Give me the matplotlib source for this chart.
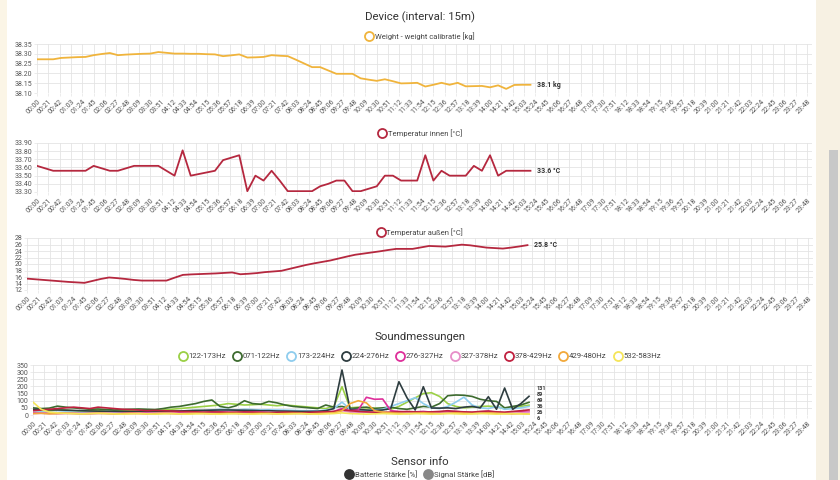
import numpy as np
import matplotlib
matplotlib.use("Agg")
import matplotlib.pyplot as plt
from matplotlib.lines import Line2D
from matplotlib.transforms import offset_copy

plt.rcParams['font.family'] = ['Roboto', 'DejaVu Sans']

# ---------------- data ----------------
step_min = 15
weight = [38.272, 38.272, 38.272, 38.279, 38.281, 38.283, 38.284, 38.293, 38.299, 38.304,
          38.293, 38.296, 38.298, 38.300, 38.301, 38.309, 38.305, 38.301, 38.301, 38.300,
          38.300, 38.298, 38.297, 38.288, 38.292, 38.297, 38.281, 38.282, 38.284, 38.293,
          38.290, 38.288, 38.270, 38.251, 38.232, 38.232, 38.215, 38.198, 38.198, 38.198,
          38.175, 38.168, 38.162, 38.170, 38.160, 38.149, 38.150, 38.152, 38.133, 38.142,
          38.152, 38.142, 38.152, 38.134, 38.135, 38.136, 38.129, 38.139, 38.121, 38.141,
          38.142, 38.142]
temp_in = [33.62, 33.59, 33.56, 33.56, 33.56, 33.56, 33.56, 33.62, 33.59, 33.56,
           33.56, 33.59, 33.62, 33.62, 33.62, 33.62, 33.56, 33.50, 33.81, 33.50,
           33.52, 33.54, 33.56, 33.69, 33.72, 33.75, 33.31, 33.50, 33.44, 33.56,
           33.44, 33.31, 33.31, 33.31, 33.31, 33.37, 33.40, 33.44, 33.44, 33.31,
           33.31, 33.34, 33.37, 33.50, 33.50, 33.44, 33.44, 33.44, 33.75, 33.44,
           33.56, 33.50, 33.50, 33.50, 33.62, 33.56, 33.75, 33.50, 33.56, 33.56,
           33.56, 33.56]
temp_out = [15.5, 15.3, 15.1, 14.9, 14.7, 14.5, 14.35, 14.2, 14.8, 15.4,
            15.85, 15.65, 15.4, 15.1, 14.9, 14.9, 14.9, 14.9, 15.8, 16.65,
            16.8, 16.9, 17.0, 17.1, 17.25, 17.4, 16.85, 17.0, 17.2, 17.5,
            17.7, 17.9, 18.5, 19.1, 19.7, 20.2, 20.65, 21.1, 21.7, 22.3,
            22.85, 23.2, 23.55, 23.9, 24.3, 24.65, 24.65, 24.65, 25.1, 25.55,
            25.45, 25.35, 25.65, 25.95, 25.75, 25.4, 25.05, 24.9, 24.75, 25.05,
            25.4, 25.8]

sound_names = ["122-173Hz", "071-122Hz", "173-224Hz", "224-276Hz", "276-327Hz",
               "327-378Hz", "378-429Hz", "429-480Hz", "532-583Hz"]
s_122 = [35, 30, 28, 40, 35, 30, 25, 30, 35, 30, 28, 30, 32, 30, 28, 30, 35, 40, 45, 50,
         55, 60, 65, 70, 80, 75, 70, 72, 75, 70, 65, 70, 65, 60, 55, 50, 45, 60, 198, 50,
         55, 50, 48, 45, 40, 60, 90, 120, 150, 156, 130, 80, 60, 50, 55, 60, 62, 58, 45, 50,
         60, 69]
s_071 = [50, 45, 48, 62, 55, 50, 45, 40, 42, 38, 35, 38, 40, 42, 40, 38, 45, 55, 60, 70,
         80, 95, 105, 60, 50, 65, 100, 80, 75, 95, 85, 70, 60, 55, 50, 45, 70, 55, 60, 45,
         50, 55, 45, 50, 55, 45, 40, 50, 60, 55, 80, 135, 140, 138, 130, 110, 100, 95, 50, 60,
         70, 89]
s_173 = [20, 22, 20, 18, 22, 20, 18, 20, 22, 25, 22, 20, 22, 25, 22, 20, 22, 25, 28, 30,
         32, 30, 35, 40, 38, 35, 40, 38, 35, 36, 35, 34, 32, 30, 30, 28, 35, 45, 90, 40,
         35, 30, 35, 40, 60, 80, 100, 121, 80, 50, 45, 60, 90, 125, 70, 50, 45, 60, 40, 45,
         50, 60]
s_224 = [40, 38, 36, 35, 34, 32, 30, 28, 27, 26, 25, 25, 24, 24, 25, 26, 27, 28, 28, 30,
         32, 33, 34, 35, 35, 34, 33, 32, 30, 30, 28, 27, 26, 25, 25, 26, 30, 45, 315, 40,
         38, 35, 32, 35, 45, 233, 120, 35, 198, 49, 48, 50, 45, 55, 60, 50, 128, 40, 189, 40,
         80, 131]
s_276 = [15, 14, 12, 15, 14, 12, 10, 12, 14, 12, 10, 12, 14, 15, 14, 12, 14, 15, 16, 18,
         20, 18, 20, 22, 20, 18, 20, 22, 20, 18, 16, 15, 14, 15, 16, 18, 20, 25, 45, 30,
         35, 124, 110, 112, 30, 25, 20, 22, 25, 20, 18, 22, 25, 20, 18, 22, 25, 20, 15, 20,
         25, 26]
s_327 = [10, 12, 10, 8, 10, 12, 10, 8, 10, 12, 10, 8, 10, 12, 10, 12, 14, 12, 10, 12,
         14, 15, 14, 12, 14, 15, 14, 12, 14, 12, 10, 12, 10, 12, 10, 12, 14, 20, 30, 20,
         18, 20, 15, 18, 15, 12, 14, 15, 18, 15, 12, 14, 15, 12, 14, 15, 18, 15, 12, 14,
         15, 20]
s_378 = [30, 35, 40, 45, 50, 55, 50, 45, 55, 50, 45, 40, 38, 35, 30, 32, 30, 28, 25, 24,
         22, 20, 22, 20, 18, 20, 22, 20, 18, 16, 18, 20, 18, 16, 18, 20, 22, 25, 35, 30,
         25, 22, 20, 18, 20, 22, 25, 22, 20, 22, 25, 30, 25, 22, 20, 25, 28, 22, 20, 25,
         30, 36]
s_429 = [10, 12, 8, 10, 12, 10, 8, 10, 12, 10, 8, 10, 12, 10, 8, 10, 12, 10, 8, 10,
         12, 10, 8, 10, 12, 10, 8, 10, 12, 10, 8, 10, 12, 10, 8, 10, 12, 15, 30, 80,
         100, 85, 30, 20, 15, 12, 10, 12, 15, 12, 10, 12, 15, 12, 10, 12, 15, 12, 10, 8,
         10, 6]
s_532 = [90, 40, 20, 15, 12, 10, 8, 10, 12, 10, 8, 6, 8, 10, 8, 6, 8, 10, 8, 6,
         8, 10, 8, 6, 8, 10, 8, 6, 8, 10, 8, 6, 8, 10, 8, 6, 8, 10, 15, 10,
         8, 6, 8, 10, 8, 6, 8, 10, 8, 6, 8, 10, 8, 6, 8, 10, 8, 6, 8, 10,
         8, 6]
sound_series = [s_122, s_071, s_173, s_224, s_276, s_327, s_378, s_429, s_532]
sound_colors = ["#9bd046", "#3d6b2f", "#8fcdee", "#2e3d40", "#de2f9a",
                "#e78fc9", "#c0213f", "#f2a93b", "#f5e55a"]
sound_end_values = [131, 89, 69, 36, 26, 6]

sensor_names = ["Batterie Stärke [%]", "Signal Stärke [dB]"]
sensor_colors = ["#333333", "#888888"]

tick_minutes = list(range(0, 1429, 21))
tick_labels = [f"{m // 60:02d}:{m % 60:02d}" for m in tick_minutes]

W, H = 840, 480
fig = plt.figure(figsize=(W / 100, H / 100), dpi=100)
fig.patch.set_facecolor("white")

# page decorations
bg = fig.add_axes([0, 0, 1, 1], zorder=-10)
bg.set_xlim(0, W); bg.set_ylim(H, 0); bg.axis("off")
bg.add_patch(plt.Rectangle((0, 0), 7, H, color="#fbf5e6", lw=0))
bg.add_patch(plt.Rectangle((816, 0), 24, H, color="#f7f1e3", lw=0))
bg.add_patch(plt.Rectangle((829, 150), 9, H - 150, color="#c8c8c8", lw=0))

LBL = "#555555"
GRID = "#e4e4e4"
FS = 5.0


def make_axes(l, t, r, b):
    ax = fig.add_axes([l / W, 1 - b / H, (r - l) / W, (b - t) / H])
    ax.set_xlim(0, 1437)
    ax.set_xticks(tick_minutes)
    ax.set_xticklabels(tick_labels, rotation=45, ha="right", rotation_mode="anchor")
    ax.tick_params(axis="both", length=2, width=0.5, color=GRID, pad=1.5,
                   labelsize=FS, labelcolor=LBL)
    ax.grid(True, color=GRID, lw=0.6)
    for s in ax.spines.values():
        s.set_visible(False)
    ax.set_facecolor("white")
    return ax


def top_legend(labels, colors, y_px, fs=5.5, filled=False):
    handles = [Line2D([], [], marker="o", ls="none", markersize=6.5,
                      markerfacecolor=(c if filled else "none"),
                      markeredgecolor=c, markeredgewidth=1.3) for c in colors]
    fig.legend(handles, labels, loc="center", bbox_to_anchor=(0.5, 1 - y_px / H),
               ncol=len(labels), frameon=False, fontsize=fs, handletextpad=0.25,
               columnspacing=0.9, borderaxespad=0, labelcolor="#444444", handlelength=1.0)


def end_label(ax, xv, yv, text):
    ax.text(xv + 12, yv, text, fontsize=5.0, fontweight="bold", color="#333333",
            va="center", clip_on=False)


x = np.arange(len(weight)) * step_min

fig.text(0.5, 1 - 17 / H, "Device (interval: 15m)", ha="center", va="center",
         fontsize=8.2, color="#333333")

# chart 1: weight
ax1 = make_axes(37, 44, 812, 93)
ax1.plot(x, weight, color="#f0b43c", lw=1.3)
ax1.set_ylim(38.10, 38.35)
yt1 = np.arange(38.10, 38.351, 0.05)
ax1.set_yticks(yt1)
ax1.set_yticklabels([f"{v:.2f}" for v in yt1])
end_label(ax1, x[-1], weight[-1], f"{round(weight[-1], 1)} kg")
top_legend(["Weight - weight calibratie [kg]"], ["#f0b43c"], 36)

# chart 2: temperature inside
ax2 = make_axes(37, 143, 812, 192)
ax2.plot(x, temp_in, color="#b5283f", lw=1.3)
ax2.set_ylim(33.30, 33.90)
yt2 = np.arange(33.30, 33.901, 0.10)
ax2.set_yticks(yt2)
ax2.set_yticklabels([f"{v:.2f}" for v in yt2])
end_label(ax2, x[-1], temp_in[-1], f"{temp_in[-1]:.1f} °C")
top_legend(["Temperatur innen [°C]"], ["#b5283f"], 133)

# chart 3: temperature outside
ax3 = make_axes(27, 238, 813, 290)
ax3.plot(x, temp_out, color="#b5283f", lw=1.3)
ax3.set_ylim(12, 28)
ax3.set_yticks(range(12, 29, 2))
end_label(ax3, x[-1], temp_out[-1], f"{temp_out[-1]:.1f} °C")
top_legend(["Temperatur außen [°C]"], ["#b5283f"], 232)

# chart 4: sound
fig.text(0.5, 1 - 337 / H, "Soundmessungen", ha="center", va="center",
         fontsize=8.2, color="#333333")
ax4 = make_axes(33, 365, 812, 415)
for ser, col in zip(sound_series, sound_colors):
    ax4.plot(x, ser, color=col, lw=1.2)
ax4.set_ylim(0, 350)
ax4.set_yticks(range(0, 351, 50))
# stacked end labels (pixel offsets from the last point at y = 0)
for i, v in enumerate(sound_end_values):
    tr = offset_copy(ax4.transData, fig=fig, x=8, y=27 - 6.2 * i, units="dots")
    ax4.text(x[-1], 0, str(v), transform=tr, fontsize=4.0, fontweight="bold",
             color="#333333", va="center", clip_on=False)
top_legend(sound_names, sound_colors, 356, fs=5.6)

fig.text(0.5, 1 - 462 / H, "Sensor info", ha="center", va="center",
         fontsize=8.2, color="#333333")
top_legend(sensor_names, sensor_colors, 474, fs=5.6, filled=True)

fig.savefig("out.png", dpi=100, facecolor="white")
